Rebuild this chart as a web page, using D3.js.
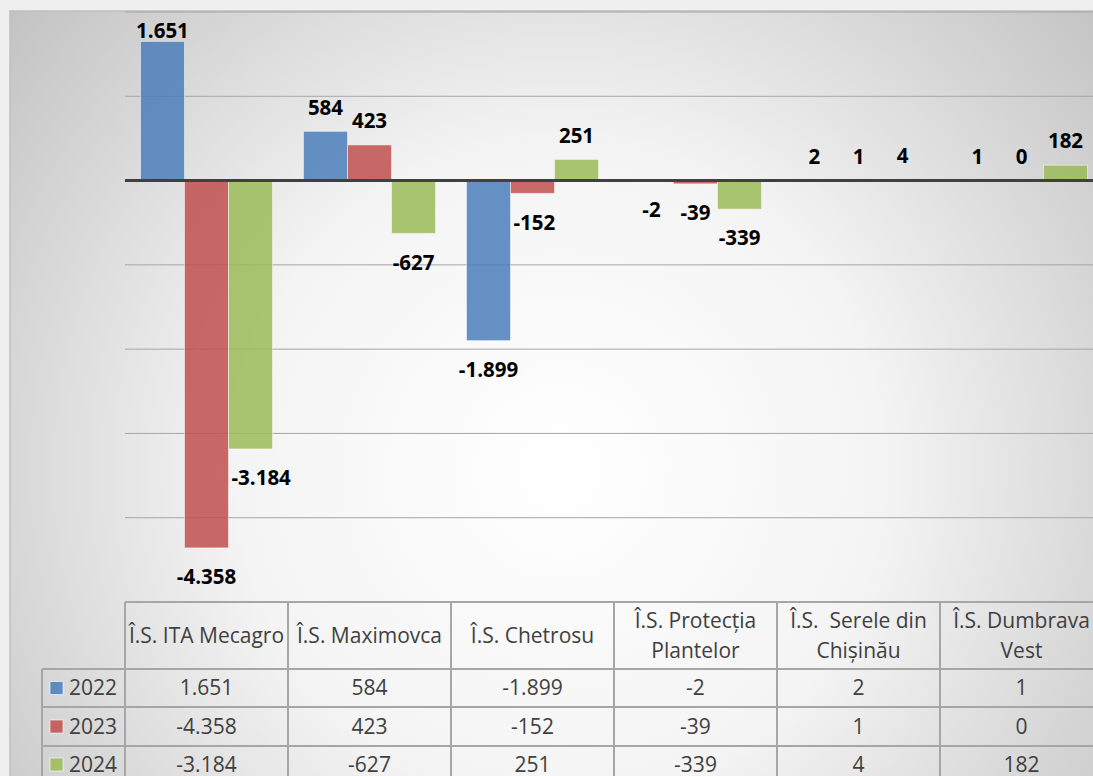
<!DOCTYPE html>
<html>
<head>
<meta charset="utf-8">
<script src="https://cdn.jsdelivr.net/npm/d3@7"></script>
<style>
  body { margin: 0; background: #efefef; }
  svg { display: block; font-family: "Open Sans", "Noto Sans", sans-serif; }
</style>
</head>
<body>
<div id="chart"></div>
<script>
// data
var categories = ["Î.S. ITA Mecagro", "Î.S. Maximovca", "Î.S. Chetrosu",
  "Î.S. Protecția\nPlantelor", "Î.S.  Serele din\nChișinău", "Î.S. Dumbrava\nVest"];
var years = ["2022", "2023", "2024"];
var values2022 = [1651, 584, -1899, -2, 2, 1];
var values2023 = [-4358, 423, -152, -39, 1, 0];
var values2024 = [-3184, -627, 251, -339, 4, 182];
var gridTicks = [2000, 1000, 0, -1000, -2000, -3000, -4000, -5000];
var colors = ["#4a7ebb", "#c0504d", "#9bbb59"];

var series = [values2022, values2023, values2024];

var width = 1093, height = 776;
var plotLeft = 125, plotRight = 1103, plotTop = 12, plotBottom = 602;
var rowTops = [669, 707, 746, 783];
var legendLeft = 42;

var loc = d3.formatLocale({decimal: ",", thousands: ".", grouping: [3], currency: ["", ""], minus: "-"});
var fmt = loc.format(",d");

var svg = d3.select("#chart").append("svg")
    .attr("width", width).attr("height", height);

var defs = svg.append("defs");
var grad = defs.append("radialGradient").attr("id", "bg")
    .attr("gradientUnits", "userSpaceOnUse")
    .attr("cx", 560).attr("cy", 470).attr("r", 720);
grad.append("stop").attr("offset", "0%").attr("stop-color", "#ffffff");
grad.append("stop").attr("offset", "45%").attr("stop-color", "#f4f4f4");
grad.append("stop").attr("offset", "100%").attr("stop-color", "#c2c2c2");

// chart area
svg.append("rect").attr("x", 10).attr("y", 11)
    .attr("width", 1200).attr("height", 900)
    .attr("fill", "url(#bg)").attr("stroke", "#c0c0c0").attr("stroke-width", 1.5);

var x0 = d3.scaleBand().domain(d3.range(categories.length))
    .range([plotLeft, plotRight]);
var bw = x0.bandwidth();
var gap = bw * 0.19;
var x1 = d3.scaleBand().domain(d3.range(years.length))
    .range([gap / 2, bw - gap / 2]);
var y = d3.scaleLinear().domain([-5000, 2000]).range([plotBottom, plotTop]);

// gridlines
svg.append("g").selectAll("line").data(gridTicks.filter(function(d) { return d !== 0; }))
  .enter().append("line")
    .attr("x1", plotLeft).attr("x2", plotRight)
    .attr("y1", function(d) { return y(d); }).attr("y2", function(d) { return y(d); })
    .attr("stroke", "#a6a6a6").attr("stroke-width", 1);

// bars
var bars = [];
series.forEach(function(vals, s) {
  vals.forEach(function(v, c) {
    bars.push({s: s, c: c, v: v});
  });
});

svg.append("g").selectAll("rect").data(bars).enter().append("rect")
    .attr("x", function(d) { return x0(d.c) + x1(d.s); })
    .attr("width", x1.bandwidth())
    .attr("y", function(d) { return y(Math.max(0, d.v)); })
    .attr("height", function(d) { return Math.abs(y(d.v) - y(0)); })
    .attr("fill", function(d) { return colors[d.s]; })
    .attr("fill-opacity", 0.85)
    .attr("stroke", "#ffffff").attr("stroke-opacity", 0.5).attr("stroke-width", 1);

// zero line
svg.append("line").attr("x1", plotLeft).attr("x2", plotRight)
    .attr("y1", y(0)).attr("y2", y(0))
    .attr("stroke", "#404040").attr("stroke-width", 3);

// data labels
var labels = svg.append("g").selectAll("text").data(bars).enter().append("text")
    .attr("text-anchor", "middle")
    .attr("dy", "0.35em")
    .attr("font-size", 20.5).attr("font-weight", "bold").attr("fill", "#000")
    .text(function(d) { return fmt(d.v); });

labels.each(function(d) {
  var cx = x0(d.c) + x1(d.s) + x1.bandwidth() / 2;
  var cy = d.v >= 0 ? y(d.v) - 24 : y(d.v) + 29;
  cy = Math.max(cy, plotTop + 19);
  var w = this.getComputedTextLength();
  // push away from a bar on the left that reaches past the label
  if (d.v < 0) {
    for (var k = 0; k < d.s; k++) {
      var nv = series[k][d.c];
      if (nv < 0 && y(nv) > cy - 10) {
        var edge = x0(d.c) + x1(k) + x1.bandwidth();
        if (cx - w / 2 < edge + 3) cx = edge + 3 + w / 2;
      }
    }
  }
  d3.select(this).attr("x", cx).attr("y", cy);
});

// data table
var table = svg.append("g");
var lineColor = "#a6a6a6";
var tableFont = 21;

// horizontal lines
table.append("line").attr("x1", plotLeft).attr("x2", plotRight)
    .attr("y1", plotBottom).attr("y2", plotBottom)
    .attr("stroke", lineColor).attr("stroke-width", 2);
rowTops.forEach(function(ry) {
  table.append("line").attr("x1", legendLeft).attr("x2", plotRight)
      .attr("y1", ry).attr("y2", ry)
      .attr("stroke", lineColor).attr("stroke-width", 2);
});
// vertical lines
table.append("line").attr("x1", legendLeft).attr("x2", legendLeft)
    .attr("y1", rowTops[0]).attr("y2", height)
    .attr("stroke", lineColor).attr("stroke-width", 2);
d3.range(categories.length + 1).forEach(function(i) {
  var xx = i < categories.length ? x0(i) : plotRight;
  table.append("line").attr("x1", xx).attr("x2", xx)
      .attr("y1", plotBottom).attr("y2", height)
      .attr("stroke", lineColor).attr("stroke-width", 2);
});

// header text
categories.forEach(function(cat, i) {
  var lines = cat.split("\n");
  var cy = (plotBottom + rowTops[0]) / 2;
  var t = table.append("text")
      .attr("text-anchor", "middle")
      .attr("font-size", tableFont).attr("fill", "#404040")
      .style("white-space", "pre");
  lines.forEach(function(l, k) {
    t.append("tspan").attr("x", x0(i) + bw / 2)
        .attr("y", cy + (k - (lines.length - 1) / 2) * 30)
        .attr("dy", "0.35em").text(l);
  });
});

// rows
years.forEach(function(yr, s) {
  var cy = (rowTops[s] + rowTops[s + 1]) / 2;
  table.append("rect").attr("x", 50).attr("y", cy - 6.5)
      .attr("width", 13).attr("height", 13)
      .attr("fill", colors[s]).attr("fill-opacity", 0.85)
      .attr("stroke", "#ffffff").attr("stroke-opacity", 0.6);
  table.append("text").attr("x", 69).attr("y", cy).attr("dy", "0.35em")
      .attr("font-size", tableFont).attr("fill", "#404040").text(yr);
  series[s].forEach(function(v, c) {
    table.append("text").attr("x", x0(c) + bw / 2).attr("y", cy)
        .attr("dy", "0.35em").attr("text-anchor", "middle")
        .attr("font-size", tableFont).attr("fill", "#404040").text(fmt(v));
  });
});
</script>
</body>
</html>
